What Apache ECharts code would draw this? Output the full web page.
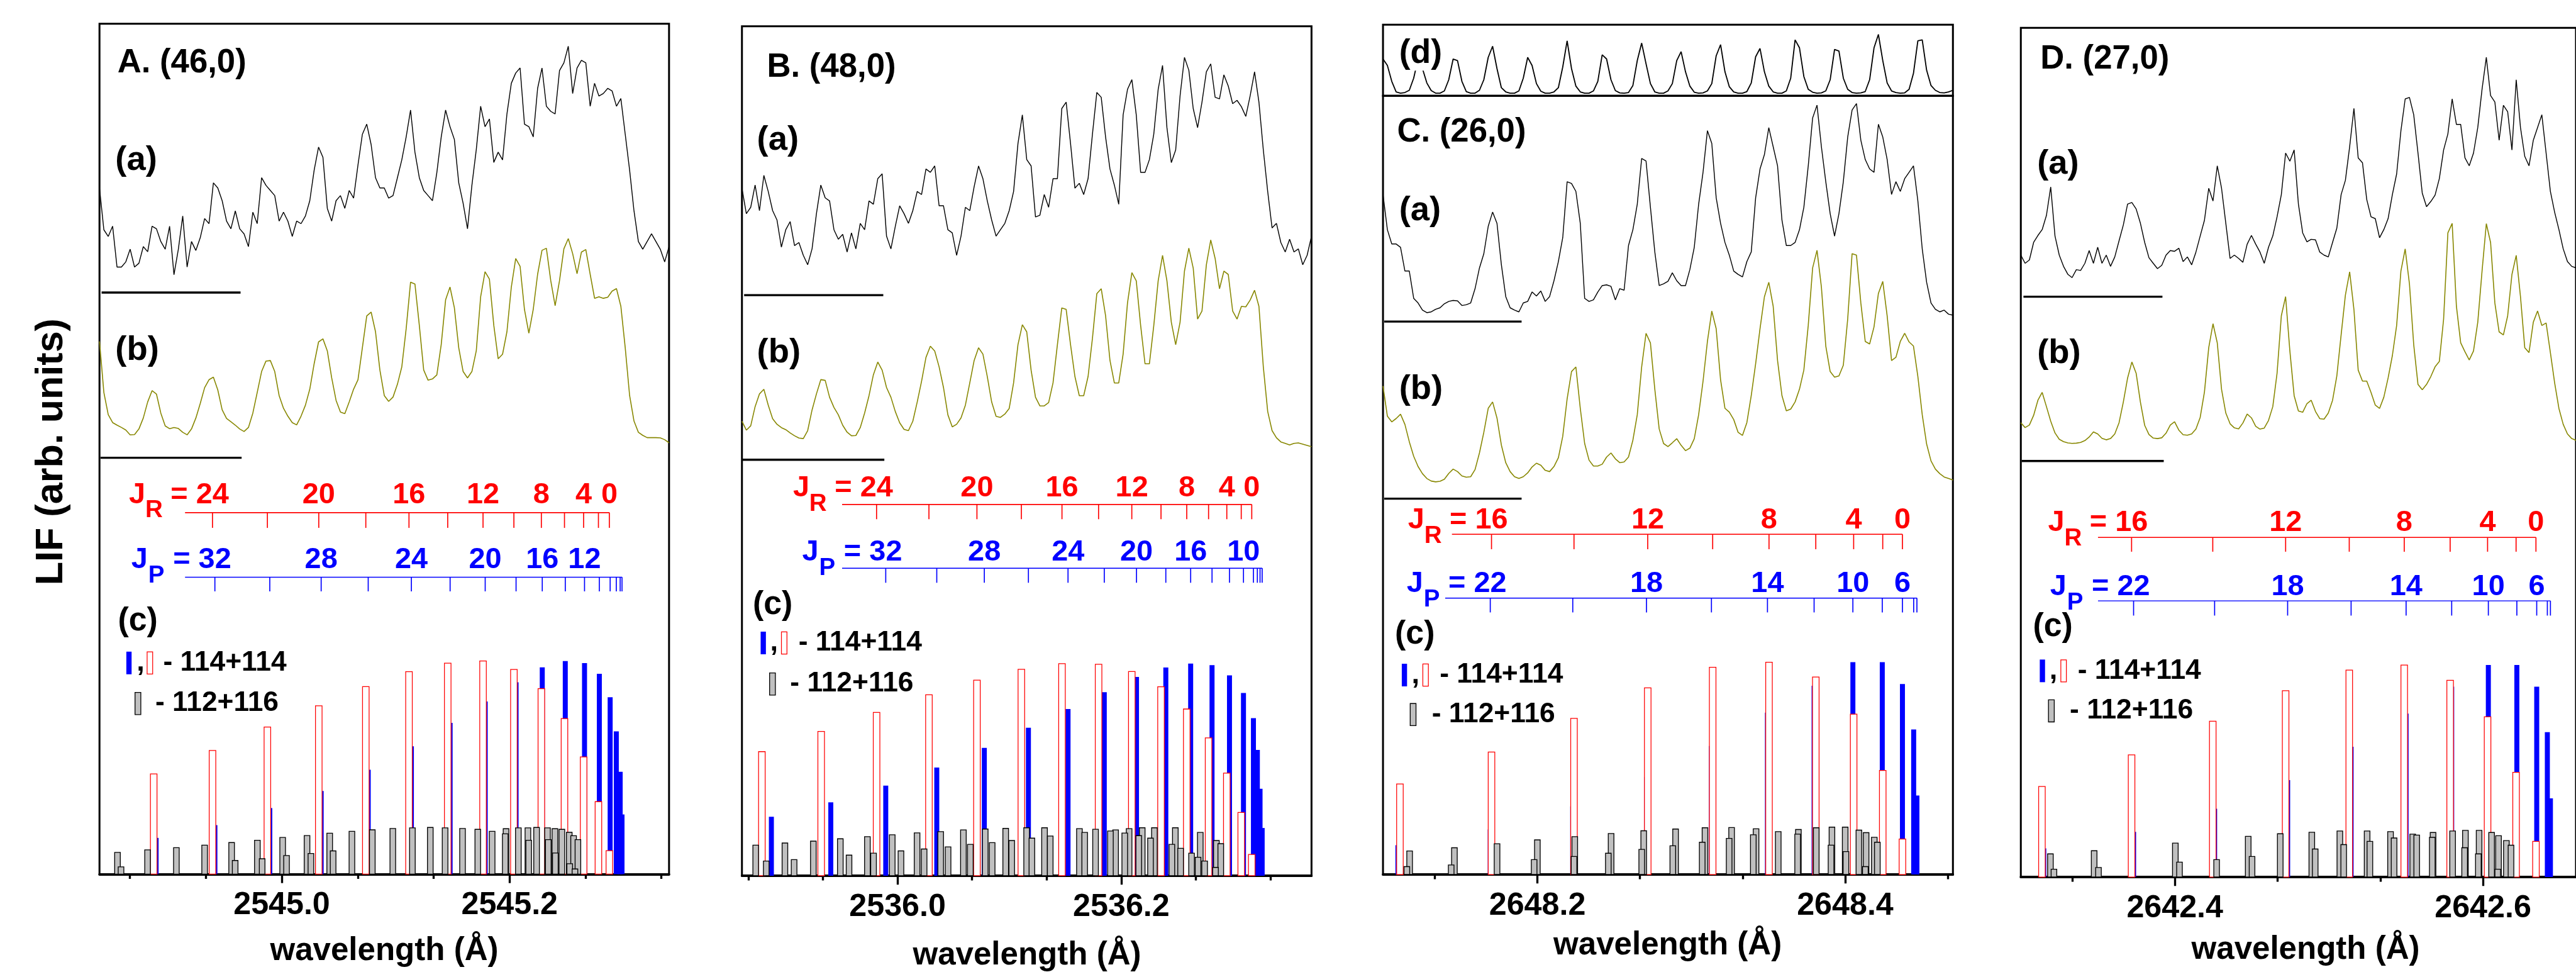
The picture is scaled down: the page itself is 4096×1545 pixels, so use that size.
<!DOCTYPE html>
<html><head><meta charset="utf-8">
<script src="https://cdn.jsdelivr.net/npm/echarts@6/dist/echarts.min.js"></script>
<style>html,body{margin:0;padding:0;background:#fff}#c{width:4096px;height:1545px}</style>
</head><body><div id="c"></div>
<script>
// ---------- LIF excitation spectra of Hg2 bands: (a) experiment, (b) simulation, (c) stick spectra ----------
const S = 0.837;
const px = v => v * S;
const FONT = '"Liberation Sans", Arial, Helvetica, sans-serif';
const font = size => `bold ${px(size)}px ${FONT}`;

// ===== Band A (46,0) =====
const A_expt = [40.9,24.6,22,26,10,10,12,17,10,11.5,18,16,26,25,20,17,26,7,17,30,10,20,16.5,21.5,29,27,43,41,36,28,25,32,25,23,18,31.5,27,45,42,40,38,28,31.5,28,22,28,27,30,36,48,57,53,33,28,36,38,33,40,37,50,62,66,58,45,41,41,37,38,45,52,61,71.5,55,45,40,38,36,47,61,71.5,65,60,43,35,25,42,56,73,65,68,51,55,52,70,82,86,88,66,65,61,80,88,73,71,70,87,90,96.5,78,88,91,90,73,82,77,78,80,79,73,76,62,48,32,20,17,20,23,20,17,12,18];
const A_sim = [45.6,25.6,16.9,13.8,12.8,11.9,10.9,9,9.1,11.3,15.6,21.9,26.3,25,17.5,12.5,11.4,11.9,11.5,10,9,11.3,15.6,21.3,27.5,30.6,31.6,26.6,18.8,15.4,14.1,12.8,11.3,10.3,11.9,17.5,25.6,33.8,37.9,38.1,33.8,24.4,19.4,16.3,13.8,12.9,16.3,20.6,26.9,36.9,45.4,46.6,41.9,31.3,22.5,17.9,17.3,21.9,26.9,30.6,43.1,55.6,57.1,49.4,34.4,24.4,22.1,23.8,28.8,35.6,50.6,68.8,68.1,51.9,34.4,30.4,30.9,32.5,44.4,61.9,66.9,58.8,43.1,33.8,31.3,33.8,41.9,63.1,72.9,70,51.9,38.8,40.6,49.4,66.9,78.1,75,58.1,48.8,58.1,71.9,81.3,82.1,69.4,59.6,69.4,81.9,85.9,80,72.1,80.6,81.6,71.9,62.5,63.1,62.5,62.9,65.3,66.3,59.4,43.1,24.4,14.4,10,8.8,7.9,7.9,7.9,7.8,7.1,5.9];
const A_R_J = [26,24,22,20,18,16,14,12,10,8,6,4,2,0];
const A_R_wl = [2544.8876,2544.9392,2544.9874,2545.0325,2545.0738,2545.1117,2545.1457,2545.1767,2545.2038,2545.2279,2545.2482,2545.2650,2545.2780,2545.2876];
const A_R_I = [47,58,69,79,88,95,99,100,96,87,73,55,34,11];
const A_P_J = [34,32,30,28,26,24,22,20,18,16,14,12,10,8,6,4,2];
const A_P_wl = [2544.8897,2544.9413,2544.9895,2545.0346,2545.0759,2545.1138,2545.1478,2545.1786,2545.2057,2545.2287,2545.2489,2545.2658,2545.2788,2545.2883,2545.2937,2545.2971,2545.2987];
const A_P_I = [17,23,31,39,49,60,71,81,90,97,100,99,94,83,67,48,28];
const A_G_wl = [2544.8558,2544.8589,2544.8822,2544.9075,2544.9323,2544.9560,2544.9591,2544.9786,2544.9828,2545.0008,2545.0042,2545.0222,2545.0256,2545.0421,2545.0451,2545.0616,2545.0795,2545.0975,2545.1147,2545.1304,2545.1434,2545.1587,2545.1721,2545.1847,2545.1962,2545.1969,2545.2077,2545.2161,2545.2168,2545.2237,2545.2333,2545.2340,2545.2398,2545.2402,2545.2459,2545.2524,2545.2528,2545.2562,2545.2574,2545.2600];
const A_G_I = [10.2,3.4,11.4,12.4,13.6,14.8,6.4,15.9,7.2,17.2,8.7,18.1,9.7,19.2,10.9,20.1,20.8,21.4,21.7,21.9,21.7,21.4,21,20.1,18.9,21.3,21.7,21.7,15.9,21.9,21.7,16.2,21.3,9.9,21,19.6,4.9,18,2.4,16.2];
const A_R_lab = [24,20,16,12,8,4,0];
const A_P_lab = [32,28,24,20,16,12];
const A_ticks = [2545.0, 2545.2];

// ===== Band B (48,0) =====
const B_expt = [41.9,31.9,34.4,43.1,33.1,46.9,40.6,33.1,29.4,18.8,25.6,28.8,19.4,20.6,15.6,11.9,18.1,31.9,43.1,38.1,36.9,25.6,21.9,23.8,16.9,24.4,18.1,28.1,25.6,36.9,35.6,45.6,47.5,23.1,18.1,26.9,35,31.9,28.1,33.1,40.6,39.4,49.4,48.1,50.6,35,35,25.6,24.4,15.6,23.1,34.4,33.1,42.5,50.6,45.6,36.9,29.4,23.1,25.6,28.1,33.1,40.6,59.4,70.6,53.1,50.6,30.6,31.3,39.4,34.4,45.6,45.6,73.1,75.6,59.4,41.9,43.8,39.4,45.6,63.1,79.4,77.5,61.9,49.4,43.1,35.6,70.6,80.6,84.4,70.6,48.1,48.1,53.1,63.1,80.6,90,65.6,51.9,56.9,78.1,93.1,88.1,73.1,65.6,75.6,87.5,90.6,77.5,76.9,86.3,81.9,75,76.3,73.8,70,78.1,87.5,75.6,56.9,40.6,26.3,28.1,20.6,16.9,21.9,16.9,18.1,11.9,15.6,23.1];
const B_sim = [15.1,11.6,13.3,20.8,25.8,27.6,21.4,16.1,13.9,12.6,11.8,10.5,9.4,8.5,8.3,11.4,19.5,25.8,31.4,31.1,24.5,20.5,17.6,13.5,10.8,9.4,9.5,12.6,18.3,25.1,33.3,38.3,35.1,28.3,24.5,18.9,14.5,11.9,11.4,15.1,22.6,30.8,40.1,44.5,42.6,36.4,28.3,17.6,12.9,13.9,16.4,21.4,30.1,38.9,43.9,41.4,32.6,22.6,17,16.6,17.9,20.1,30.1,45.1,52.9,50.1,35.1,24.5,21.1,21.1,22.4,30.1,45.1,59.5,58.9,45.1,32.6,25.1,25.1,32.6,47.6,65.1,67,56.4,38.9,30.1,30.1,41.4,61.4,73.3,70.1,52.6,37.6,37.6,52.6,70.1,80.1,70.1,53.9,45.1,53.9,73.9,82.9,75.1,55.1,58.3,76.4,86.1,78.9,67,73.9,72.6,58.3,55.1,60.1,59.9,62.6,66.4,60.1,36.4,18.9,11.4,8.6,7,6.4,5.8,6.4,6.6,6.1,5.6,5.1];
const B_R_J = [28,26,24,22,20,18,16,14,12,10,8,6,4,2,0];
const B_R_wl = [2535.8788,2535.9318,2535.9813,2536.0281,2536.0710,2536.1107,2536.1470,2536.1797,2536.2094,2536.2355,2536.2585,2536.2780,2536.2943,2536.3072,2536.3166];
const B_R_I = [58.5,68,77,85.3,92.2,97.3,100,99.7,96.3,89.1,78.6,65,48.4,29.8,10];
const B_P_J = [36,34,32,30,28,26,24,22,20,18,16,14,12,10,8,6,4,2];
const B_P_wl = [2535.8873,2535.9404,2535.9895,2536.0351,2536.0776,2536.1170,2536.1524,2536.1848,2536.2136,2536.2398,2536.2620,2536.2811,2536.2967,2536.3092,2536.3181,2536.3216,2536.3240,2536.3259];
const B_P_I = [27.8,34.6,42.5,51,60.3,69.8,78.6,86.5,93.7,98.2,100,99.3,94.5,86.2,74.3,59.3,41,22.5];
const B_G_wl = [2535.8733,2535.8827,2535.8994,2535.9076,2535.9248,2535.9489,2535.9567,2535.9731,2535.9786,2535.9953,2536.0031,2536.0175,2536.0238,2536.0386,2536.0452,2536.0589,2536.0651,2536.0784,2536.0846,2536.0967,2536.1021,2536.1154,2536.1201,2536.1314,2536.1365,2536.1626,2536.1673,2536.1770,2536.1903,2536.1949,2536.2031,2536.2070,2536.2156,2536.2187,2536.2261,2536.2296,2536.2452,2536.2483,2536.2530,2536.2628,2536.2706,2536.2686,2536.2745,2536.2850,2536.2889,2536.2842];
const B_G_I = [14.4,6.9,15.4,7.6,16.3,17.4,9.7,18.4,10.6,19.3,11.7,20.2,12.6,20.8,13.6,21.6,14.8,22,15.6,22.3,16.6,22.6,17.7,22.6,18.7,22.2,20.4,21.9,21.1,21.6,20.1,22.2,18.9,22.6,17.7,22.6,14.8,22.6,12.9,10.6,20.4,8.7,6.9,16.6,15.1,3.9];
const B_R_lab = [24,20,16,12,8,4,0];
const B_P_lab = [32,28,24,20,16,10];
const B_ticks = [2536.0, 2536.2];

// ===== Band C (26,0) with etalon trace (d) =====
const C_etalon = [53.5,43.5,18.5,2,0,1,4.5,23.5,53.5,38.5,16,4,0,0,3.5,21,53.5,51,18.5,2.5,0,0,4.5,21,56,73.5,38.5,8.5,2,0,0,3.5,23.5,56,43.5,15,3,0,0,2,8.5,41,82,38.5,11,2,0,0,3.5,18.5,60,53.5,21,4,0.5,0,1,12,51,78.5,46,15,2,0,0,3.5,15,51,65,33.5,11,1.5,0,0.5,3.5,15,58.5,76,33.5,10,2,0,0,2.5,16,57,70,33.5,11,2,0,0,3.5,23.5,83.5,71,26,6,1.5,0,0.5,3.5,21,68.5,66,23.5,6,1,0,0.5,2.5,21,71,92,51,16,3.5,1,0,0.5,6,31,82,83.5,36,12,4.5,1,0.5,2,4.5];
const C_expt = [49.8,36,30.4,30.4,29.1,19.8,19.8,9.1,7.3,4.5,3.5,3.8,4.8,5.4,7,7.9,8.3,8.1,6.3,6.6,7.3,12.9,21,26.6,37.3,42.9,38.5,22.3,9.8,5.4,4.5,3.8,7.3,7.9,11.6,10,12,7.9,9.8,16,23.5,32.9,54.8,54.1,51,38.5,9.1,7.9,8.5,11.6,14.1,14.4,13.8,8.5,12.9,12.3,29.8,36,46,63.9,62.9,44.8,27.3,14.1,14.8,15.8,19.1,16,14.1,14.1,20.4,29.1,46,58.5,74.8,69.8,48.5,38.5,31,26,19.8,18.5,17.5,23.5,27.3,48.5,59.8,65.4,76,68.5,61,39.8,29.8,29.8,31,36,44.8,61,79.8,84.8,68.5,54.8,42.3,33.5,42.3,54.8,72.3,82.9,85.4,71,63.5,59.8,58.5,77.3,72.3,63.5,49.8,54.8,51,56,58.5,61,47.3,28.5,15.4,7.3,4.8,3.8,4.5,2.9,2.5];
const C_sim = [44.1,32.3,30.1,31.4,33.1,29.1,22.3,16.6,12.6,9.8,7.9,6.9,6.6,6.8,7.6,9.9,11.6,10.6,8.9,8.4,8.6,11.4,17.9,26,35.4,37.9,31.6,21,14.1,10.6,8.6,7.9,8.6,10.1,12.4,13.9,13.1,11.1,10.6,12.6,16,24.4,39.1,49.8,51.6,35.4,21.6,15.1,12.8,12.8,13.5,16.3,17.9,15.6,14.1,14.4,16.3,22.9,32.9,51.6,64.8,61,42.9,27.3,21.6,20.4,21.9,23.5,20.9,18.8,19.8,23.5,32.9,46,61.6,73.5,66.6,46.6,35.4,33.9,31,26,24.8,29.8,40.4,52.9,66.6,79.1,84.8,75.4,54.1,40.4,34.4,35.1,37.9,42.9,50.4,67.9,90.4,97.3,82.9,59.8,49.8,47.6,48.1,52.3,70.4,96,95.4,76.6,61.6,60.6,67.3,80.4,85.1,71.6,54.1,55.4,61.6,64.8,61.4,59.8,47.9,32.9,21.4,14.8,11.6,9.8,8.5,7.9,7.3];
const C_R_J = [18,16,14,12,10,8,6,4,2,0];
const C_R_wl = [2648.1107,2648.1702,2648.2238,2648.2717,2648.3139,2648.3505,2648.3809,2648.4055,2648.4244,2648.4372];
const C_R_I = [42.6,57.7,73.5,87.9,97.6,100,93,75.5,49,16.7];
const C_P_J = [24,22,20,18,16,14,12,10,8,6,4,2];
const C_P_wl = [2648.1094,2648.1694,2648.2230,2648.2709,2648.3131,2648.3495,2648.3798,2648.4050,2648.4241,2648.4372,2648.4445,2648.4466];
const C_P_I = [13.8,21.2,32.1,45.9,60.5,76.2,88.9,100,100,89.7,68.3,37.2];
const C_G_wl = [2648.1170,2648.1152,2648.1461,2648.1440,2648.1738,2648.2000,2648.1979,2648.2243,2648.2238,2648.2479,2648.2461,2648.2691,2648.2678,2648.2898,2648.2880,2648.3089,2648.3071,2648.3262,2648.3246,2648.3421,2648.3403,2648.3565,2648.3696,2648.3691,2648.3812,2648.3914,2648.3908,2648.4000,2648.4005,2648.4089,2648.4136,2648.4131,2648.4189,2648.4209];
const C_G_I = [11.1,3.7,12.6,4.5,14.5,16.3,7,17.8,8.5,19.3,10,20.6,11.8,21.4,13.5,22,15.2,22.1,17,21.5,18.7,20.2,21.2,19,22,22.3,13.8,22.3,10.8,20.9,19.7,3.7,17.5,15.2];
const C_R_lab = [16,12,8,4,0];
const C_P_lab = [22,18,14,10,6];
const C_ticks = [2648.2, 2648.4];

// ===== Band D (27,0) =====
const D_expt = [16.3,13.1,14.4,21.3,24,26.3,31.9,43,23.8,16.3,11.9,8.8,7.5,10.6,10.3,13.1,18.1,13.1,19.4,13.1,16.3,11.9,15.6,21.9,28.1,36.3,36.9,34.4,28.8,21.3,15.3,13.1,11,12.3,16.3,18.1,17.8,19,13.8,15.6,12.5,17.5,23.8,30,42.5,37.5,51.3,42.5,28.8,15,16.3,15,13.5,20.6,24,20.6,17.5,13.1,19.4,23.8,31.3,40,56.3,53.1,57.5,36.3,25,21.5,22.5,22.3,17.5,16.3,15.6,21.3,26.9,40,45.6,58.8,73.8,54.4,52.5,38.1,31.3,30.6,23.1,26.3,30.6,40,48.1,65,77.5,78.1,71.3,56.3,40.6,35.3,37.3,39.8,46.3,57.5,63.8,77.5,67.5,67.5,54.4,51.3,56.3,66.3,81.3,93.8,78.8,76.3,61.3,75,72.5,57.5,85,66.3,55,51.3,61.3,66.3,71.3,56.3,41.3,33.1,26.3,18.8,13.8,11.9,11.3];
const D_sim = [15,13.1,14.1,17.9,23.8,26.9,21.3,15.6,11,8.5,7.6,7.1,6.9,7,7.3,8,9.4,11.4,10.6,8.9,8.3,8.8,10.6,15,23.1,32.5,38.8,34.4,23.1,14,10.4,9,8.8,9.1,10.9,14.1,15.4,12.1,10.3,10.1,10.6,12.5,17.1,27.1,44.4,53.8,46.3,28.1,18.8,14.6,13,12.6,14.9,18.4,16.9,13.6,12.5,12.9,15.9,21.3,34.4,56.9,64.4,43.1,25.6,19.6,19.1,22.5,23.8,19.4,16.6,16.4,18.8,23.8,33.4,49.4,65,74.1,59.4,35.6,31.3,31.3,26.9,21.9,20.6,25,32.5,41.3,53.1,74.4,83.1,69.4,45.6,30,27.9,30,33.1,36.9,39,55.6,89.4,93.1,60.6,46.3,42.8,39.6,43.1,54.4,74.4,93,85.6,61.9,50.6,49.4,56.9,73.1,80.6,64.4,44.4,42.5,54.4,58.8,53.1,54.1,42.5,30.6,20.6,14.4,10.6,8.8,8.1];
const D_R_J = [18,16,14,12,10,8,6,4,2,0];
const D_R_wl = [2642.3137,2642.3719,2642.4246,2642.4719,2642.5132,2642.5489,2642.5787,2642.6030,2642.6215,2642.6344];
const D_R_I = [42.7,57.6,73.5,87.9,97.6,100,92.8,75.6,49.4,16.8];
const D_P_J = [24,22,20,18,16,14,12,10,8,6,4,2];
const D_P_wl = [2642.3149,2642.3732,2642.4258,2642.4732,2642.5144,2642.5501,2642.5797,2642.6035,2642.6220,2642.6349,2642.6418,2642.6438];
const D_P_I = [13.5,21.3,32.2,45.7,61.4,77.1,89.8,100,100,89.8,68.3,37.1];
const D_G_wl = [2642.3192,2642.3215,2642.3476,2642.3504,2642.4003,2642.4030,2642.4271,2642.4476,2642.4501,2642.4684,2642.4889,2642.4911,2642.5071,2642.5096,2642.5248,2642.5266,2642.5400,2642.5423,2642.5544,2642.5570,2642.5676,2642.5671,2642.5803,2642.5886,2642.5881,2642.5975,2642.5970,2642.6056,2642.6101,2642.6096,2642.6152,2642.6182];
const D_G_I = [10.9,3.7,12.4,4.5,16,7,8.2,19.2,9.7,20.4,21.1,13.2,21.7,15.3,21.7,16.8,21.4,18.4,20.2,19.8,21,18.7,21.7,22,13.8,22,10.9,21,19.5,3.7,17.2,15];
const D_R_lab = [16,12,8,4,0];
const D_P_lab = [22,18,14,10,6];
const D_ticks = [2642.4, 2642.6];

// ---------- panel layout (reference pixels, scaled by S) ----------
const panels = [
  { title:'A. (46,0)', range:[2544.840, 2545.340], ticks:A_ticks,
    expt:A_expt, sim:A_sim, R:[A_R_J,A_R_wl,A_R_I], P:[A_P_J,A_P_wl,A_P_I], G:[A_G_wl,A_G_I],
    rLab:A_R_lab, pLab:A_P_lab, rStart:2544.9151, pStart:2544.9151,
    box:{l:189,r:1271,t:45,b:1660}, a:[70.9,555.6], b:[384.7,869.4], lr:[973.5,1002.5], lp:[1096,1123], cTop:1255.3,
    rLabY:940, pLabY:1064,
    txt:{title:[223,120], a:[219,305], b:[219,666], c:[224,1180]},
    zero:{a:[193,457,555.6], b:[191,459,869.4]},
    leg:{y1:1259, blue:240, red:279.5, comma:267, t1:310, y2:1336, gray:256.5, t2:295}, xname:[730,1806] },
  { title:'B. (48,0)', range:[2535.861, 2536.370], ticks:B_ticks,
    expt:B_expt, sim:B_sim, R:[B_R_J,B_R_wl,B_R_I], P:[B_P_J,B_P_wl,B_P_I], G:[B_G_wl,B_G_I],
    rLab:B_R_lab, pLab:B_P_lab, rStart:2535.9505, pStart:2535.9505,
    box:{l:1409.5,r:2491.5,t:50,b:1663}, a:[75.7,560.4], b:[388.4,873.1], lr:[958,986], lp:[1079,1106.7], cTop:1260.3,
    rLabY:927, pLabY:1049,
    txt:{title:[1457,128], a:[1438,267], b:[1438,670], c:[1430,1149]},
    zero:{a:[1413.6,1678,560.4], b:[1409.5,1680,873.1]},
    leg:{y1:1221, blue:1445, red:1484.5, comma:1470.5, t1:1517, y2:1299, gray:1462, t2:1501}, xname:[1951,1815] },
  { title:'C. (26,0)', range:[2648.0997, 2648.470], ticks:C_ticks,
    expt:C_expt, sim:C_sim, R:[C_R_J,C_R_wl,C_R_I], P:[C_P_J,C_P_wl,C_P_I], G:[C_G_wl,C_G_I],
    rLab:C_R_lab, pLab:C_P_lab, rStart:2648.1445, pStart:2648.1401,
    box:{l:2627.3,r:3710,t:182,b:1660.7}, a:[126,610.7], b:[462.3,947], lr:[1014.5,1043], lp:[1135.7,1163], cTop:1257.5,
    rLabY:988, pLabY:1109,
    etalon:C_etalon, dBox:[47,182], dPlot:[55.7,176.9], dTxt:[2658,102],
    txt:{title:[2654,252], a:[2658,400], b:[2658,740], c:[2650,1205]},
    zero:{a:[2629.6,2890.6,610.7], b:[2629.6,2890.6,947]},
    leg:{y1:1282, blue:2663, red:2703, comma:2689, t1:2735, y2:1357, gray:2679, t2:2720}, xname:[3168,1796] },
  { title:'D. (27,0)', range:[2642.300, 2642.6604], ticks:D_ticks,
    expt:D_expt, sim:D_sim, R:[D_R_J,D_R_wl,D_R_I], P:[D_P_J,D_P_wl,D_P_I], G:[D_G_wl,D_G_I],
    rLab:D_R_lab, pLab:D_P_lab, rStart:2642.3501, pStart:2642.3501,
    box:{l:3839,r:4921.5,t:53,b:1665.5}, a:[78.8,563.5], b:[390.8,875.5], lr:[1020.5,1047.7], lp:[1141,1169], cTop:1262.9,
    rLabY:993, pLabY:1115,
    txt:{title:[3876,113], a:[3870,312], b:[3870,672], c:[3862,1191]},
    zero:{a:[3844,4108,563.5], b:[3840.6,4110.5,875.5]},
    leg:{y1:1274, blue:3875, red:3915, comma:3901, t1:3947, y2:1350, gray:3891.5, t2:3932}, xname:[4380,1804] }
];

const RED = '#ff0000', BLUE = '#0000ff', OLIVE = '#878700', GRAY = '#c0c0c0';
const STICK = {
  blue:{w:9.5, fill:BLUE, stroke:null, lw:0},
  red:{w:12.5, fill:'#ffffff', stroke:RED, lw:1.5},
  gray:{w:10.7, fill:GRAY, stroke:'#000', lw:1.6}
};

const grids = [], xAxes = [], yAxes = [], series = [], gfx = [];

function addGrid(l, r, t, b, xr, yr, gridExtra, xExtra) {
  const i = grids.length;
  grids.push(Object.assign({left:px(l), top:px(t), width:px(r - l), height:px(b - t), show:false}, gridExtra || {}));
  xAxes.push(Object.assign({type:'value', gridIndex:i, min:xr[0], max:xr[1], show:false, splitLine:{show:false}}, xExtra || {}));
  yAxes.push({type:'value', gridIndex:i, min:yr[0], max:yr[1], show:false, splitLine:{show:false}});
  return i;
}

function text(x, y, s, size, o) {
  o = o || {};
  const el = {type:'text', x:px(x), y:px(y), z:100,
    style:{text:s, fill:o.color || '#000', font:font(size), textAlign:o.align || 'left', textVerticalAlign:'middle'}};
  if (o.bg) { el.style.backgroundColor = o.bg; }
  if (o.rot) { el.rotation = o.rot; }
  gfx.push(el);
}
function seg(x1, y1, x2, y2, w, color) {
  gfx.push({type:'line', z:60, shape:{x1:px(x1), y1:px(y1), x2:px(x2), y2:px(y2)}, style:{stroke:color || '#000', lineWidth:px(w)}});
}
function rect(l, t, r, b, st) {
  gfx.push({type:'rect', z:60, shape:{x:px(l), y:px(t), width:px(r - l), height:px(b - t)},
    style:{fill:st.fill, stroke:st.stroke || null, lineWidth:st.lw ? px(st.lw) : 0}});
}

// spectrum sampled on a uniform wavelength grid spanning the panel
function trace(gi, vals, range, color, w) {
  const n = vals.length;
  const data = vals.map((v, i) => [range[0] + i * (range[1] - range[0]) / (n - 1), v]);
  series.push({type:'line', xAxisIndex:gi, yAxisIndex:gi, data, symbol:'none', showSymbol:false,
    lineStyle:{color, width:px(w)}, silent:true, animation:false});
}

function sticks(gi, wl, val, kind) {
  const st = STICK[kind];
  let data = wl.map((w, i) => [w, val[i]]);
  if (kind === 'gray') data = data.slice().sort((a, b) => b[1] - a[1]);
  series.push({type:'custom', xAxisIndex:gi, yAxisIndex:gi, data, silent:true, animation:false,
    renderItem: (params, api) => {
      const b = api.coord([api.value(0), 0]);
      const t = api.coord([api.value(0), api.value(1)]);
      const w = px(st.w);
      return {type:'rect', shape:{x:b[0] - w / 2, y:t[1], width:w, height:b[1] - t[1]},
        style:{fill:st.fill, stroke:st.stroke, lineWidth:st.lw ? px(st.lw) : 0}};
    }});
}

// rotational assignment ladder: tick per line, numbered every 4th J
function ladder(gi, line, labels, color, start, labY, subLetter) {
  const [J, wl] = line;
  const data = [];
  J.forEach((j, i) => { if (j <= labels[0]) data.push([wl[i], j]); });
  const end = Math.max.apply(null, data.map(d => d[0]));
  series.push({type:'line', xAxisIndex:gi, yAxisIndex:gi, data:[[start, 1], [end, 1]], symbol:'none',
    lineStyle:{color, width:px(2)}, silent:true, animation:false});
  series.push({type:'custom', xAxisIndex:gi, yAxisIndex:gi, data, silent:true, animation:false,
    renderItem: (params, api) => {
      const x = api.value(0), j = api.value(1);
      const top = api.coord([x, 1]), bot = api.coord([x, 0]);
      const ch = [{type:'line', shape:{x1:top[0], y1:top[1], x2:bot[0], y2:bot[1]}, style:{stroke:color, lineWidth:px(2)}}];
      if (labels.indexOf(j) >= 0) {
        const fs = 56, cy = px(labY);
        ch.push({type:'text', x:top[0], y:cy, style:{text:String(j), fill:color, font:font(fs), textAlign:'center', textVerticalAlign:'middle'}});
        if (j === labels[0]) {
          const nl = top[0] - String(j).length * 0.556 * px(fs) / 2;
          ch.push({type:'text', x:nl - px(32), y:cy, style:{text:'=', fill:color, font:font(fs), textAlign:'center', textVerticalAlign:'middle'}});
          ch.push({type:'text', x:nl - px(80), y:cy + px(30), style:{text:subLetter, fill:color, font:font(46), textAlign:'center', textVerticalAlign:'middle'}});
          ch.push({type:'text', x:nl - px(112), y:cy, style:{text:'J', fill:color, font:font(fs), textAlign:'center', textVerticalAlign:'middle'}});
        }
      }
      return {type:'group', children:ch};
    }});
}

// every third tick of the wavelength axis carries a label
function minorTicks(range, labels) {
  const step = (labels[1] - labels[0]) / 3, out = [];
  for (let k = -12; k <= 12; k++) {
    if (k % 3 === 0) continue;
    const v = labels[0] + k * step;
    if (v > range[0] + 1e-6 && v < range[1] - 1e-6) out.push(+v.toFixed(5));
  }
  return out;
}

panels.forEach(p => {
  const X = p.range, bx = p.box;
  // framed panel: axis line and short ticks
  addGrid(bx.l, bx.r, bx.t, bx.b, X, [0, 1],
    {show:true, borderColor:'#000', borderWidth:px(3.6), backgroundColor:'transparent'},
    {show:true, position:'bottom',
     axisLine:{show:true, onZero:false, lineStyle:{color:'#000', width:px(4.5)}},
     axisTick:{show:true, inside:false, length:px(9), customValues:minorTicks(X, p.ticks), lineStyle:{color:'#000', width:px(4)}},
     axisLabel:{show:false}, splitLine:{show:false}});

  if (p.etalon) {
    addGrid(bx.l, bx.r, p.dBox[0], p.dBox[1], X, [0, 1], {show:true, borderColor:'#000', borderWidth:px(3.6), backgroundColor:'transparent'});
    const gd = addGrid(bx.l, bx.r, p.dPlot[0], p.dPlot[1], X, [0, 100]);
    trace(gd, p.etalon, X, '#000', 2.2);
    text(p.dTxt[0], p.dTxt[1], '(d)', 64, {bg:'#fff'});
  }

  const ga = addGrid(bx.l, bx.r, p.a[0], p.a[1], X, [0, 100]);
  trace(ga, p.expt, X, '#000', 1.7);
  const gb = addGrid(bx.l, bx.r, p.b[0], p.b[1], X, [0, 100]);
  trace(gb, p.sim, X, OLIVE, 1.9);

  const gr = addGrid(bx.l, bx.r, p.lr[0], p.lr[1], X, [0, 1]);
  ladder(gr, p.R, p.rLab, RED, p.rStart, p.rLabY, 'R');
  const gp = addGrid(bx.l, bx.r, p.lp[0], p.lp[1], X, [0, 1]);
  ladder(gp, p.P, p.pLab, BLUE, p.pStart, p.pLabY, 'P');

  // stick spectrum; its x axis carries the labelled (long) ticks
  const gc = addGrid(bx.l, bx.r, p.cTop, bx.b, X, [0, 100], null,
    {show:true, position:'bottom',
     axisLine:{show:false, onZero:false},
     axisTick:{show:true, inside:false, length:px(17), customValues:p.ticks, lineStyle:{color:'#000', width:px(4)}},
     axisLabel:{show:true, customValues:p.ticks, formatter:v => v.toFixed(1), color:'#000',
       fontSize:px(60), fontWeight:'bold', fontFamily:FONT, margin:px(30)},
     splitLine:{show:false}});
  sticks(gc, p.P[1], p.P[2], 'blue');
  sticks(gc, p.R[1], p.R[2], 'red');
  sticks(gc, p.G[0], p.G[1], 'gray');

  // labels
  text(p.txt.title[0], p.txt.title[1], p.title, 63);
  text(p.txt.a[0], p.txt.a[1], '(a)', 65);
  text(p.txt.b[0], p.txt.b[1], '(b)', 65);
  text(p.txt.c[0], p.txt.c[1], '(c)', 62);
  seg(p.zero.a[0], p.zero.a[2], p.zero.a[1], p.zero.a[2], 4);
  seg(p.zero.b[0], p.zero.b[2], p.zero.b[1], p.zero.b[2], 4);

  // isotopologue key
  const L = p.leg;
  rect(L.blue, L.y1 - 21.5, L.blue + 10, L.y1 + 21.5, STICK.blue);
  text(L.comma, L.y1, ',', 54, {align:'center'});
  rect(L.red, L.y1 - 21, L.red + 10.5, L.y1 + 21, STICK.red);
  text(L.t1, L.y1, '- 114+114', 53);
  rect(L.gray, L.y2 - 21, L.gray + 11, L.y2 + 21, STICK.gray);
  text(L.t2, L.y2, '- 112+116', 53);

  text(p.xname[0], p.xname[1], 'wavelength (\u00C5)', 61, {align:'center'});
});

text(98, 858, 'LIF (arb. units)', 73, {align:'center', rot:Math.PI / 2});

const chart = echarts.init(document.getElementById('c'), null, {renderer:'canvas', width:4096, height:1545});
chart.setOption({
  animation:false,
  backgroundColor:'#ffffff',
  grid:grids, xAxis:xAxes, yAxis:yAxes, series,
  graphic:gfx
});
</script>
</body></html>
